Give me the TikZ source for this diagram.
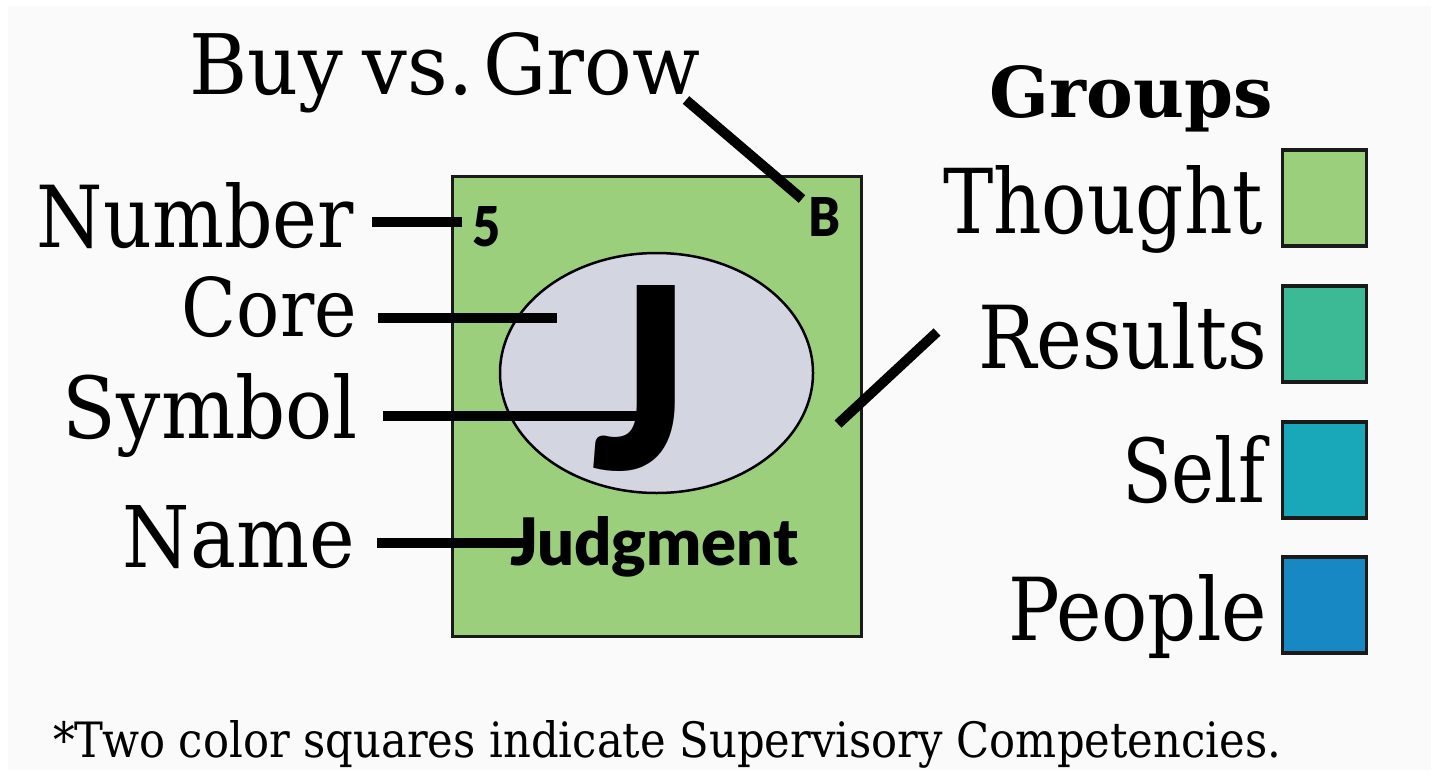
\documentclass[tikz,border=0pt]{standalone}
\usepackage{fontspec}
\usepackage{graphicx}
\setmainfont{DejaVu Serif}
\newfontfamily\latoblk{Lato Black}
\usetikzlibrary{shapes.geometric}
\newlength\px
\setlength\px{0.01cm}
\newcommand\fitbox[3]{\resizebox{#1\px}{#2\px}{#3}}
\definecolor{bg}{HTML}{FAFAFA}
\definecolor{thought}{HTML}{9BCF7C}
\definecolor{results}{HTML}{3CB995}
\definecolor{selfc}{HTML}{19A8B9}
\definecolor{people}{HTML}{1788C3}
\definecolor{corefill}{HTML}{D3D6E1}
\definecolor{edge}{HTML}{1A1A1A}
\begin{document}
\begin{tikzpicture}[x=0.01cm,y=-0.01cm,
  lab/.style={inner sep=0pt,outer sep=0pt,anchor=base east},
  labw/.style={inner sep=0pt,outer sep=0pt,anchor=base west},
  lead/.style={line width=10\px,black},
  swatch/.style={draw=edge,line width=3.5\px,minimum width=84\px,minimum height=96\px,inner sep=0pt},
  tagf/.style={font=\latoblk,inner sep=0pt,outer sep=0pt,anchor=base west}]
\useasboundingbox (0,0) rectangle (1437,776);
\fill[white] (0,0) rectangle (1437,776);
\fill[bg] (8,6) rectangle (1431,770);
% card
\node[draw=edge,line width=3\px,fill=thought,minimum width=409\px,minimum height=459\px,inner sep=0pt] (card) at (656.5,406.5) {};
\node[ellipse,draw=black,line width=2.5\px,fill=corefill,minimum width=313\px,minimum height=240\px,inner sep=0pt] (coreell) at (656.5,373) {};
\node[font=\latoblk,inner sep=0pt,outer sep=0pt,anchor=south west] (sym) at (591,472) {\resizebox*{98\px}{186\px}{J}};
\node[tagf] (num) at (472,247) {\fitbox{28}{40}{5}};
\node[tagf] (buytag) at (808,237) {\fitbox{32}{39}{B}};
\node[tagf] (namet) at (510,565) {\fitbox{288}{49}{Judgment}};
% labels
\node[labw] (buy) at (189,94) {\fitbox{511}{62}{Buy\hspace{0.25em}vs.\hspace{0.12em}Grow}};
\node[lab] (number) at (354,247) {\fitbox{317}{65}{Number}};
\node[lab] (corelab) at (357,337) {\fitbox{175}{60}{Core}};
\node[lab] (symbol) at (358,438) {\fitbox{295}{65}{Symbol}};
\node[lab] (name) at (355,567) {\fitbox{232}{62}{Name}};
\node[lab,font=\bfseries] (groups) at (1273,117) {\fitbox{283}{52}{Groups}};
\node[lab] (thoughtl) at (1263,233) {\fitbox{320}{68}{Thought}};
\node[lab] (resultsl) at (1267,368) {\fitbox{289}{66}{Results}};
\node[lab] (selfl) at (1265,502) {\fitbox{143}{67}{Self}};
\node[lab] (peoplel) at (1267,640) {\fitbox{259}{66}{People}};
\node[labw] (foot) at (53,757) {\fitbox{1228}{37}{*Two color squares indicate Supervisory Competencies.}};
% swatches
\node[swatch,fill=thought] (sqT) at (1324.5,198) {};
\node[swatch,fill=results] (sqR) at (1324.5,334) {};
\node[swatch,fill=selfc] (sqS) at (1324.5,470) {};
\node[swatch,fill=people] (sqP) at (1324.5,605) {};
% leader lines
\coordinate (numA) at (372,222); \coordinate (numB) at (462,222);
\coordinate (coreA) at (378,318); \coordinate (coreB) at (557,318);
\coordinate (symA) at (383,416); \coordinate (symB) at (642,416);
\coordinate (nameA) at (377,543); \coordinate (nameB) at (525,543);
\coordinate (buyA) at (686,100); \coordinate (buyB) at (802,199);
\coordinate (resA) at (937,332); \coordinate (resB) at (838,424);
\draw[lead] (numA) -- (numB);
\draw[lead] (coreA) -- (coreB);
\draw[lead] (symA) -- (symB);
\draw[lead] (nameA) -- (nameB);
\draw[lead] (buyA) -- (buyB);
\draw[lead] (resA) -- (resB);
\end{tikzpicture}
\end{document}
